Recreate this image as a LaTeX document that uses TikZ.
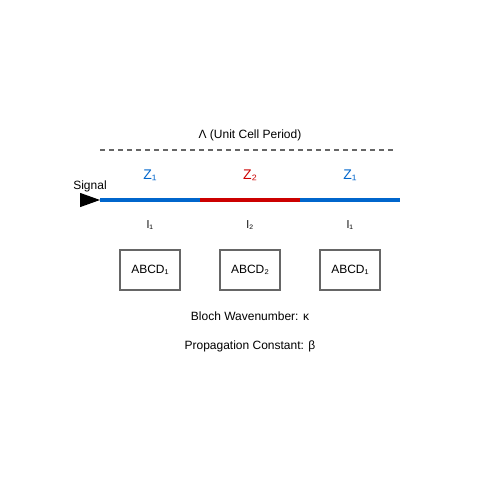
\documentclass[tikz,border=0pt]{standalone}
\usepackage{fontspec}
\setmainfont{Liberation Sans}
\usetikzlibrary{arrows.meta}
\definecolor{azul}{HTML}{0066CC}
\definecolor{rojo}{HTML}{CC0000}
\definecolor{gris}{HTML}{666666}
\tikzset{
  etiqueta/.style={font=\fontsize{12}{14}\selectfont, inner sep=0pt},
  bloque/.style={draw=gris, line width=1.3pt, minimum width=60pt, minimum height=40pt, inner sep=0pt, font=\fontsize{12}{14}\selectfont},
  tramo/.style={line width=4pt}
}
\begin{document}
\begin{tikzpicture}[x=1pt,y=-1pt]
    \useasboundingbox[fill=white] (0,0) rectangle (500,500);

    % Periodo
    \node[etiqueta] (periodo) at (250,135) {Λ (Unit Cell Period)};
    \coordinate (pa) at (100,150);
    \coordinate (pb) at (395,150);
    \draw[gris, line width=1.3pt, dash pattern=on 5pt off 4pt] (pa) -- (pb);

    % Línea de transmisión
    \coordinate (l0) at (100,200);
    \coordinate (l1) at (200,200);
    \coordinate (l2) at (300,200);
    \coordinate (l3) at (400,200);
    \draw[tramo, azul] (l0) -- (l1);
    \draw[tramo, rojo] (l1) -- (l2);
    \draw[tramo, azul] (l2) -- (l3);

    % Señal
    \coordinate (s0) at (80,200);
    \draw[line width=1.3pt, -{Triangle[length=20pt, width=14pt]}] (s0) -- (l0);
    \node[etiqueta] (senal) at (90,186) {Signal};

    % Impedancias
    \node[etiqueta, azul, font=\fontsize{14}{16}\selectfont] (z1) at (150,175) {Z₁};
    \node[etiqueta, rojo, font=\fontsize{14}{16}\selectfont] (z2) at (250,175) {Z₂};
    \node[etiqueta, azul, font=\fontsize{14}{16}\selectfont] (z3) at (350,175) {Z₁};

    % Longitudes
    \node[etiqueta, font=\fontsize{11}{13}\selectfont] (d1) at (150,225) {l₁};
    \node[etiqueta, font=\fontsize{11}{13}\selectfont] (d2) at (250,225) {l₂};
    \node[etiqueta, font=\fontsize{11}{13}\selectfont] (d3) at (350,225) {l₁};

    % Matrices
    \node[bloque] (m1) at (150,270) {ABCD₁};
    \node[bloque] (m2) at (250,270) {ABCD₂};
    \node[bloque] (m3) at (350,270) {ABCD₁};

    % Constantes
    \node[etiqueta] (bloch) at (250,316) {Bloch Wavenumber: κ};
    \node[etiqueta] (prop) at (250,346) {Propagation Constant: β};
\end{tikzpicture}
\end{document}
